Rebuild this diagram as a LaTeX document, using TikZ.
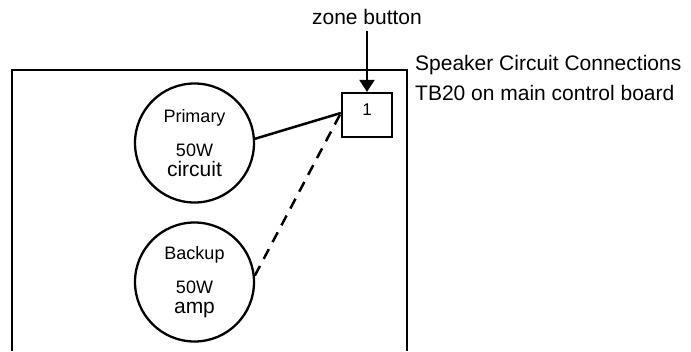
\documentclass[tikz,border=0pt]{standalone}
\usepackage{fontspec}
\setmainfont{Liberation Sans}
\usetikzlibrary{arrows.meta}

\begin{document}
\begin{tikzpicture}[x=1pt, y=-1pt,
  source/.style={circle, draw, line width=2.3pt, minimum size=119pt, inner sep=0pt, align=center,
    font=\fontsize{18}{20}\selectfont},
  term/.style={rectangle, draw, line width=2.3pt, minimum width=50pt, minimum height=44pt, inner sep=0pt,
    font=\fontsize{17}{20}\selectfont},
  lbl/.style={font=\fontsize{21}{25}\selectfont, inner sep=0pt},
  wire/.style={draw, line width=2.5pt}
]
\useasboundingbox (0,0) rectangle (691,351);

% Enclosure
\draw[line width=2.3pt] (12,351) -- (12,70) -- (407,70) -- (407,351);

% Amplifier circuits
\node[source] (primary) at (194.5,143) {Primary\\[14pt]50W\\{\fontsize{21}{20}\selectfont circuit}};
\node[source] (backup) at (194.5,282) {Backup\\[14pt]50W\\{\fontsize{21}{20}\selectfont amp}};

% Terminal block
\node[term] (tb) at (367,115) {};
\node[font=\fontsize{17}{20}\selectfont, inner sep=0pt] (tbnum) at (367,110) {1};

% Labels
\node[lbl] (zone) at (367,17) {zone button};
\node[lbl, anchor=west] (title) at (415,65) {Speaker Circuit Connections};
\node[lbl, anchor=west] (board) at (415,93) {TB20 on main control board};

% Connections
\draw[line width=2.3pt, -{Triangle[length=12pt, width=15pt]}] ([yshift=-6pt]zone.south) -- (tb.north);
\draw[wire] (primary.4) -- ([yshift=2pt]tb.west);
\draw[wire, dash pattern=on 11pt off 8pt] (backup.6) -- ([yshift=2pt]tb.west);

\end{tikzpicture}
\end{document}
